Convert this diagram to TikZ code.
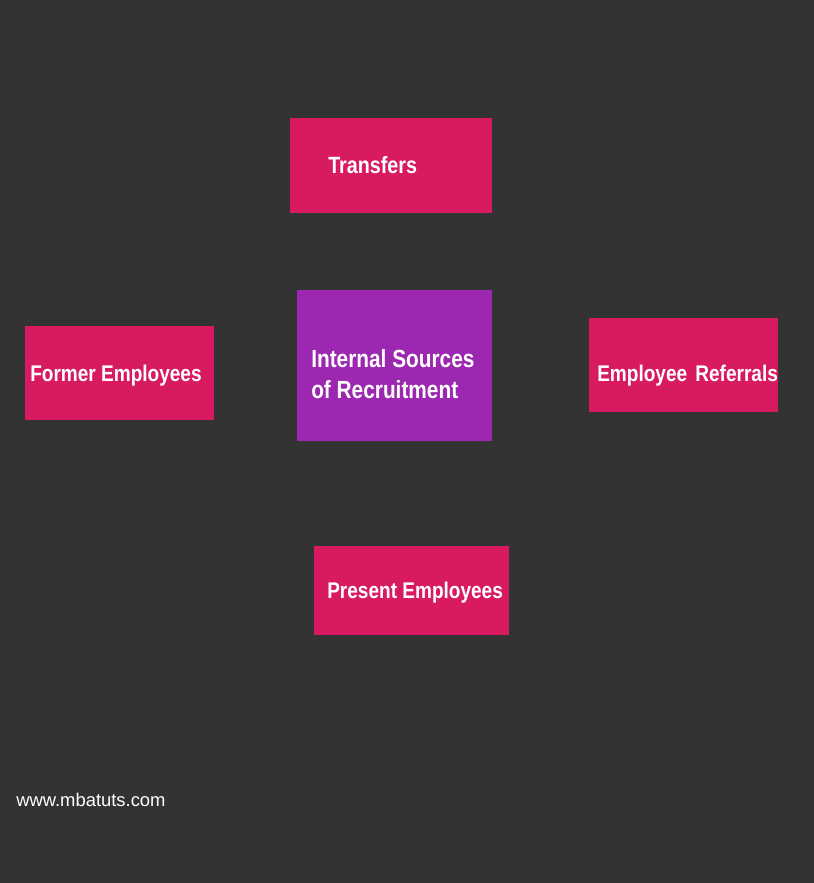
\documentclass[tikz,border=0pt]{standalone}
\usepackage{fontspec}
\setmainfont{Liberation Sans}[FakeStretch=0.84]
\newfontfamily\wwwfont{Liberation Sans}
\definecolor{bg}{HTML}{333333}
\definecolor{pinkbox}{HTML}{D81B60}
\definecolor{purplebox}{HTML}{9C27B0}
\begin{document}
\begin{tikzpicture}[x=0.75pt,y=-0.75pt,
  box/.style={fill=#1,draw=none},
  lbl/.style={anchor=base west,inner sep=0pt,text=white,font=\fontsize{17}{20}\selectfont\bfseries},
  biglbl/.style={lbl,font=\fontsize{18.6}{21}\selectfont\bfseries}]
\fill[bg] (0,0) rectangle (814,883);
\useasboundingbox (0,0) rectangle (814,883);
\path[box=pinkbox] (290,118) rectangle (492,213) node[pos=0.5] (tbox) {};
\path[box=purplebox] (297,290) rectangle (492,441) node[pos=0.5] (cbox) {};
\path[box=pinkbox] (25,326) rectangle (214,420) node[pos=0.5] (fbox) {};
\path[box=pinkbox] (589,318) rectangle (778,412) node[pos=0.5] (rbox) {};
\path[box=pinkbox] (314,546) rectangle (509,635) node[pos=0.5] (pbox) {};
\node[lbl,font=\fontsize{17.6}{20}\selectfont\bfseries] (ttxt) at (328,173) {Transfers};
\node[biglbl] (ctxt1) at (311,367) {Internal Sources};
\node[biglbl] (ctxt2) at (311,398) {of Recruitment};
\node[lbl] (ftxt) at (30,381) {Former Employees};
\node[lbl] (rtxt) at (597,381) {Employee\hspace{0.36em}Referrals};
\node[lbl] (ptxt) at (327,598) {Present Employees};
\node[anchor=base west,inner sep=0pt,text=white,font=\wwwfont\fontsize{13.8}{16}\selectfont] (www) at (16,806) {www.mbatuts.com};
\end{tikzpicture}
\end{document}
